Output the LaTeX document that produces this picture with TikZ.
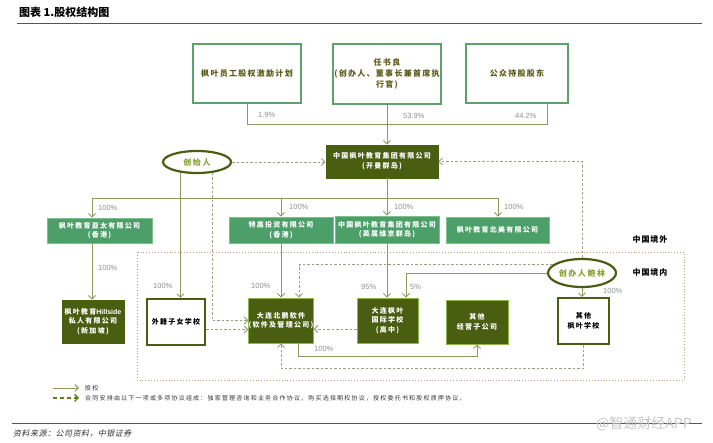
\documentclass[tikz,border=0pt]{standalone}
\usepackage{fontspec}
\setmainfont{Liberation Sans}
\newfontfamily\cjk{Noto Sans CJK SC}
\newfontfamily\cjkA[LetterSpace=16]{Noto Sans CJK SC}
\newfontfamily\cjkB[LetterSpace=18]{Noto Sans CJK SC}
\newfontfamily\cjkC[LetterSpace=20]{Noto Sans CJK SC}
\newfontfamily\cjkE[LetterSpace=12]{Noto Sans CJK SC}
\newfontfamily\cjkI[FakeSlant=0.2,LetterSpace=6]{Noto Sans CJK SC}
\usetikzlibrary{arrows.meta,shapes.geometric}
\definecolor{cTop}{HTML}{5BA26B}
\definecolor{cTopT}{HTML}{5C5C1A}
\definecolor{cG}{HTML}{4C9F68}
\definecolor{cGB}{HTML}{7EC08C}
\definecolor{cD}{HTML}{4A5E12}
\definecolor{cDB}{HTML}{8DB84A}
\definecolor{cLine}{HTML}{8C9A5E}
\definecolor{cDash}{HTML}{9CA184}
\definecolor{cBound}{HTML}{B9A375}
\definecolor{cPct}{HTML}{8F8F8F}
\definecolor{cOvT}{HTML}{86A032}
\definecolor{cLeg}{HTML}{5E7E1E}
\definecolor{cRule}{HTML}{555555}
\definecolor{cTxt}{HTML}{333333}
\tikzset{
  topbox/.style={draw=cTop, line width=2pt, fill=white, text=cTopT, align=center, inner sep=0pt,
    font=\cjkA\bfseries\fontsize{8}{11}\selectfont},
  greenbox/.style={draw=cGB, line width=0.8pt, fill=cG, text=white, align=center, inner sep=0pt,
    font=\cjkB\bfseries\fontsize{7}{9.5}\selectfont},
  darkbox/.style={draw=cDB, line width=0.8pt, fill=cD, text=white, align=center, inner sep=0pt,
    font=\cjkB\bfseries\fontsize{7}{9.5}\selectfont},
  holdbox/.style={draw=cD, line width=0.8pt, fill=cD, text=white, align=center, inner sep=0pt,
    font=\cjkB\bfseries\fontsize{7}{10}\selectfont},
  whitebox/.style={draw=cD, line width=2.2pt, fill=white, text=black, align=center, inner sep=0pt,
    font=\cjkB\bfseries\fontsize{7}{9.5}\selectfont},
  ovalnode/.style={ellipse, draw=cD, line width=2.2pt, fill=white, text=cOvT, inner sep=0pt,
    font=\cjkC\bfseries\fontsize{8}{10}\selectfont},
  region/.style={text=black, inner sep=0pt, font=\cjkE\bfseries\fontsize{8}{10}\selectfont},
  pct/.style={text=cPct, anchor=west, inner sep=0pt, font=\fontsize{7.5}{9}\selectfont},
  ownl/.style={draw=cLine, line width=0.9pt},
  own/.style={draw=cLine, line width=0.9pt, -{Straight Barb[length=3.5pt,width=7pt]}},
  ctr/.style={draw=cDash, line width=0.9pt, dash pattern=on 2.5pt off 2pt, -{Straight Barb[length=3.5pt,width=7pt]}},
  legtext/.style={text=cTxt, anchor=west, inner sep=0pt, font=\cjkC\fontsize{6}{7}\selectfont}
}
\begin{document}
\begin{tikzpicture}[x=1pt,y=-1pt]
\useasboundingbox (0,0) rectangle (713,443);
\fill[white] (0,0) rectangle (713,443);

% title
\node[anchor=west, inner sep=0pt, font=\cjk\bfseries\fontsize{11}{13}\selectfont] (title) at (19,12) {图表 1.股权结构图};
\draw[cRule, line width=0.8pt] (17,23) -- (702,23);

% region boundary
\draw[cBound, line width=0.9pt, dotted] (137,252) rectangle (684,380);

% top shareholders
\node[topbox, minimum width=108pt, minimum height=59pt] (b1) at (247,73.5) {枫叶员工股权激励计划};
\node[topbox, minimum width=108pt, minimum height=60pt] (b2) at (387,74) {任书良\\(创办人、董事长兼首席执\\行官)};
\node[topbox, minimum width=102pt, minimum height=59pt] (b3) at (517,73.5) {公众持股股东};

\node[holdbox, minimum width=112pt, minimum height=33pt] (hold) at (382,161.5) {中国枫叶教育集团有限公司\\(开曼群岛)};
\node[ovalnode, minimum width=68pt, minimum height=22pt] (fd) at (197,162) {创始人};

% second row
\node[greenbox, minimum width=105pt, minimum height=25pt] (ap) at (99.5,230.5) {枫叶教育亚太有限公司\\(香港)};
\node[greenbox, minimum width=104pt, minimum height=26pt] (tg) at (281,230) {特高投资有限公司\\(香港)};
\node[greenbox, minimum width=104pt, minimum height=27pt] (bvi) at (387,229.5) {中国枫叶教育集团有限公司\\(英属维京群岛)};
\node[greenbox, minimum width=103pt, minimum height=26pt] (na) at (497.5,230) {枫叶教育北美有限公司};

\node[region] (out) at (650,239) {中国境外};
\node[region] (in) at (650,272) {中国境内};

\node[ovalnode, minimum width=68pt, minimum height=28pt] (bao) at (582,273) {创办人鲍林};

% third row
\node[darkbox, draw=cD, minimum width=62pt, minimum height=43pt] (hill) at (93,321.5) {枫叶教育{\rmfamily\bfseries Hillside}\\私人有限公司\\(新加坡)};
\node[whitebox, minimum width=58pt, minimum height=46pt] (girl) at (176,322) {外籍子女学校};
\node[darkbox, minimum width=64pt, minimum height=45pt] (bp) at (281,320.5) {大连北鹏软件\\(软件及管理公司)};
\node[darkbox, minimum width=61pt, minimum height=45pt] (dl) at (387.5,320.5) {大连枫叶\\国际学校\\(高中)};
\node[darkbox, minimum width=62pt, minimum height=44pt] (sub) at (477,322) {其他\\经营子公司};
\node[whitebox, minimum width=51pt, minimum height=46pt] (os) at (583.5,321) {其他\\枫叶学校};

% helper coordinates
\coordinate (j1) at (387,124);
\coordinate (vx) at (387,198);
\coordinate (dL) at (92,198);
\coordinate (dR) at (498,198);
\coordinate (r1) at (477,356);

% ownership lines
\draw[ownl] (b1.south) |- (j1);
\draw[ownl] ([xshift=30pt]b3.south) |- (j1);
\draw[own] (b2.south) -- (b2.south |- hold.north);
\draw[own] (vx |- hold.south) -- (vx |- bvi.north);
\draw[ownl] (dL) -- (dR);
\draw[own] (dL) -- (dL |- ap.north);
\draw[own] (tg.north |- vx) -- (tg.north);
\draw[own] (dR) -- (dR |- na.north);
\draw[own] (dL |- ap.south) -- (dL |- hill.north);
\draw[own] (tg.south) -- (tg.south |- bp.north);
\draw[own] (bvi.south) -- (bvi.south |- dl.north);
\draw[own] (fd.213.7) -- (fd.213.7 |- girl.north);
\draw[own] (bao.west) -| ([xshift=18.5pt]dl.north);
\draw[own] (bao.south) -- (bao.south |- os.north);
\draw[own] ([xshift=17pt]bp.south) |- (r1) -- (sub.south);

% contractual arrangements
\draw[ctr] (fd.east) -- (fd.east -| hold.west);
\draw[ctr] (fd.324.5) |- (bp.west);
\draw[ctr] ([yshift=-7.5pt]girl.east) -- ([yshift=-7.5pt]girl.east -| bp.west);
\draw[ctr] ([yshift=-8.5pt]dl.west) -- ([yshift=-8.5pt]dl.west -| bp.east);
\draw[ctr] (bao.north) |- (hold.east);
\draw[ctr] (bao.164) -| ([xshift=18pt]bp.north);
\draw[ctr] (os.south) |- ([yshift=-25pt]bp.south) -- (bp.south);

% percentages
\node[pct] (p1) at (258,115) {1.9\%};
\node[pct] (p2) at (403,116) {53.9\%};
\node[pct] (p3) at (515,116) {44.2\%};
\node[pct] (p4) at (98,208) {100\%};
\node[pct] (p5) at (289,207) {100\%};
\node[pct] (p6) at (394,207) {100\%};
\node[pct] (p7) at (504,207) {100\%};
\node[pct] (p8) at (98,268) {100\%};
\node[pct] (p9) at (153,286) {100\%};
\node[pct] (p10) at (251,286) {100\%};
\node[pct] (p11) at (361,287) {95\%};
\node[pct] (p12) at (410,287) {5\%};
\node[pct] (p13) at (603,291) {100\%};
\node[pct] (p14) at (314,349) {100\%};

% legend
\coordinate (la1) at (53,388);
\coordinate (la2) at (79,388);
\coordinate (lb1) at (53,398);
\coordinate (lb2) at (79,398);
\draw[own] (la1) -- (la2);
\draw[draw=cLeg, line width=1.4pt, dash pattern=on 4pt off 3pt, -{Straight Barb[length=3.5pt,width=7pt,line width=1.4pt]}] (lb1) -- (lb2);
\node[legtext] (lt1) at (85,388) {股权};
\node[legtext] (lt2) at (85,398) {合同安排由以下一项或多项协议组成：独家管理咨询和业务合作协议，购买选择期权协议，授权委托书和股权质押协议。};

% footer
\draw[cRule, line width=0.8pt] (12,423) -- (702,423);
\node[anchor=west, inner sep=0pt, text=cTxt, font=\cjkI\fontsize{8}{10}\selectfont] (src) at (13,434) {资料来源：公司资料，中银证券};
\node[anchor=west, inner sep=0pt, text=black!22, font=\cjk\fontsize{14}{16}\selectfont] (wm) at (596,424) {@智通财经APP};
\end{tikzpicture}
\end{document}
